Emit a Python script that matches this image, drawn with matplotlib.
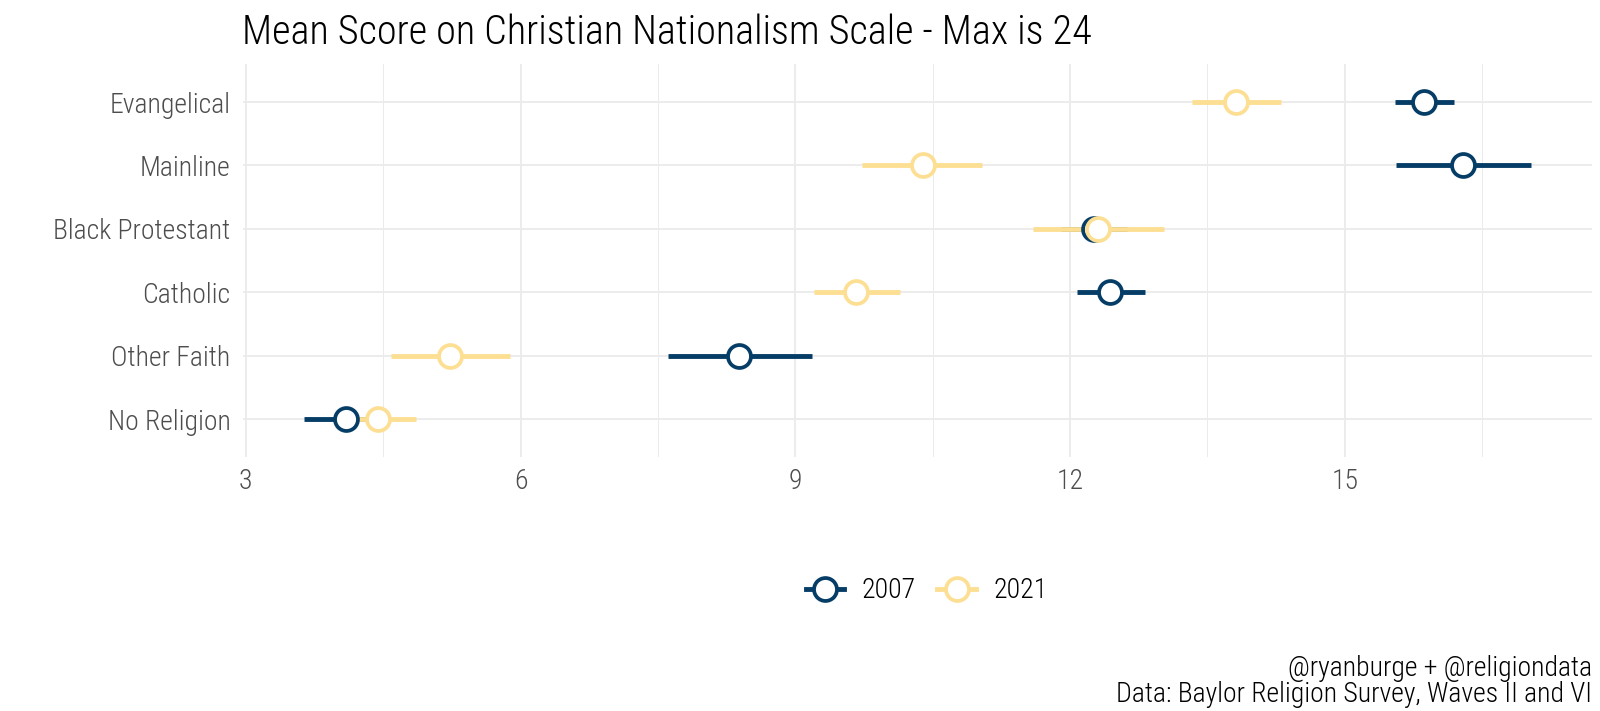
import matplotlib
matplotlib.use('Agg')
import matplotlib.pyplot as plt
from matplotlib import font_manager
from matplotlib.lines import Line2D

groups = ['Evangelical', 'Mainline', 'Black Protestant', 'Catholic', 'Other Faith', 'No Religion']
years = ['2007', '2021']
mean_2007 = [15.87, 16.29, 12.26, 12.44, 8.39, 4.09]
low_2007 = [15.55, 15.56, 11.90, 12.08, 7.61, 3.64]
high_2007 = [16.19, 17.03, 12.62, 12.82, 9.18, 4.54]
mean_2021 = [13.81, 10.39, 12.31, 9.66, 5.23, 4.44]
low_2021 = [13.33, 9.73, 11.60, 9.20, 4.59, 4.03]
high_2021 = [14.30, 11.04, 13.03, 10.14, 5.88, 4.86]
x_ticks = [3, 6, 9, 12, 15]

navy = '#053d67'
gold = '#fddf93'

available = {f.name for f in font_manager.fontManager.ttflist}
font = 'DejaVu Sans'
for cand in ['Roboto Condensed', 'Liberation Sans Narrow', 'Open Sans Condensed', 'Roboto']:
    if cand in available:
        font = cand
        break
plt.rcParams['font.family'] = [font, 'DejaVu Sans']
plt.rcParams['font.weight'] = 'light'
plt.rcParams['font.stretch'] = 'condensed'

fig = plt.figure(figsize=(16, 7.11), dpi=100)
ax = fig.add_axes([0.1519, 0.3572, 0.8431, 0.5527])

ypos = list(range(len(groups), 0, -1))
series = [(mean_2007, low_2007, high_2007, navy), (mean_2021, low_2021, high_2021, gold)]

# lines first, then points (like geom_pointrange)
for k, (m, lo, hi, col) in enumerate(series):
    ax.hlines(ypos, lo, hi, color=col, lw=3.5, zorder=2 + k * 0.1)
for k, (m, lo, hi, col) in enumerate(series):
    ax.plot(m, ypos, 'o', ms=16.5, mfc='white', mec=col, mew=2.7, ls='none', zorder=3 + k * 0.1)

ax.set_xlim(2.97, 17.70)
ax.set_ylim(0.4, len(groups) + 0.6)
ax.set_xticks(x_ticks)
ax.set_xticks([4.5, 7.5, 10.5, 13.5, 16.5], minor=True)
ax.set_yticks(ypos)
ax.set_yticklabels(groups)
ax.grid(which='major', color='#ebebeb', lw=1.3, zorder=0)
ax.grid(which='minor', axis='x', color='#ebebeb', lw=0.7, zorder=0)
ax.set_axisbelow(True)
for s in ax.spines.values():
    s.set_visible(False)
ax.tick_params(which='both', length=0)
ax.tick_params(axis='x', labelsize=20, labelcolor='#4d4d4d', pad=8)
ax.tick_params(axis='y', labelsize=20, labelcolor='#4d4d4d', pad=9)

fig.text(242 / 1600, 1 - 33 / 711, 'Mean Score on Christian Nationalism Scale - Max is 24',
         ha='left', va='center', fontsize=29, color='black')

handles = [Line2D([0], [0], color=c, lw=3.5, marker='o', ms=16.5, mfc='white', mec=c, mew=2.7)
           for c in (navy, gold)]
fig.legend(handles, years, loc='center', bbox_to_anchor=(0.579, 1 - 591 / 711), ncol=2,
           frameon=False, fontsize=20, handlelength=1.4, handletextpad=0.6, columnspacing=0.8)

fig.text(1592 / 1600, 1 - 669 / 711, '@ryanburge + @religiondata', ha='right', va='center',
         fontsize=20, color='black')
fig.text(1592 / 1600, 1 - 695 / 711, 'Data: Baylor Religion Survey, Waves II and VI', ha='right',
         va='center', fontsize=20, color='black')

fig.savefig('out.png', dpi=100)
